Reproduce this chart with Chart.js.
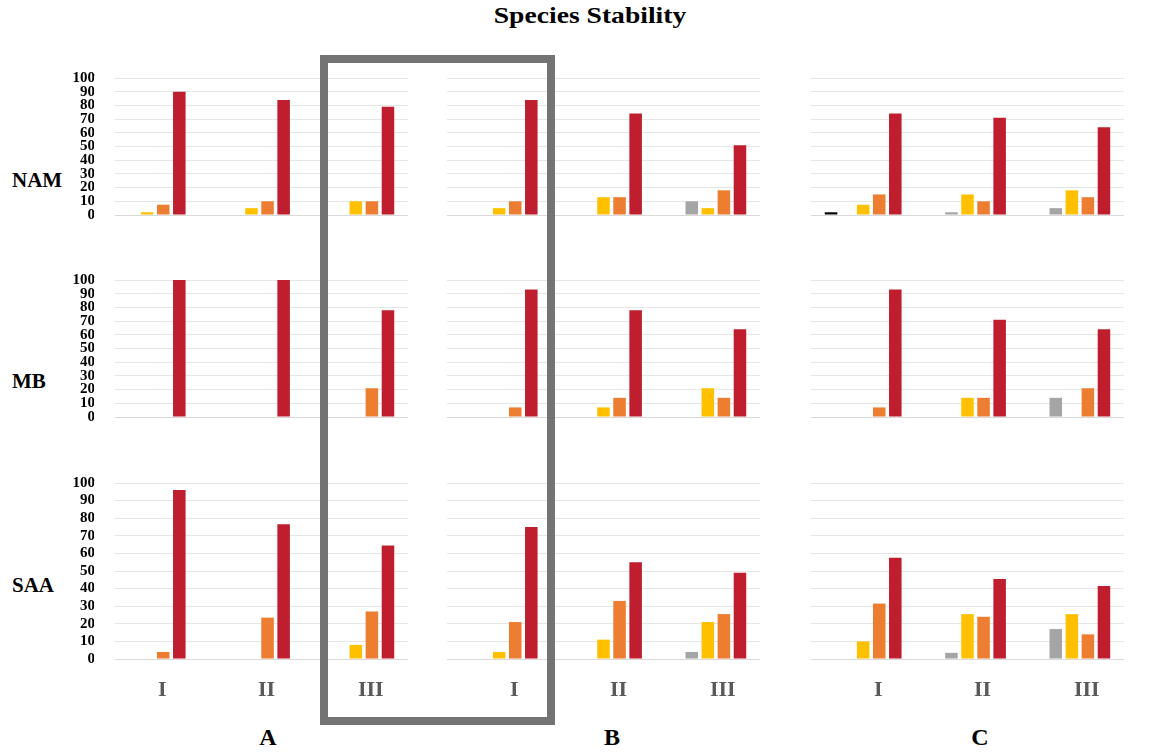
<!DOCTYPE html>
<html>
<head>
<meta charset="utf-8">
<title>Species Stability</title>
<script src="https://cdn.jsdelivr.net/npm/chart.js"></script>
<style>
  body { margin: 0; background: #fff; }
  #wrap {
    position: relative;
    width: 1157px;
    height: 755px;
    overflow: hidden;
    font-family: "Liberation Serif", "Times New Roman", serif;
    font-weight: bold;
  }
  #wrap canvas { position: absolute; }
  .lbl { position: absolute; white-space: nowrap; line-height: 1; color: #000; }
  .title { font-size: 23px; left: 590px; top: 4px; transform: translateX(-50%) scaleX(1.2); }
  .region { font-size: 21px; left: 12px; }
  .panel { font-size: 24px; top: 725px; transform: translateX(-50%); }
  #box {
    position: absolute;
    left: 320px;
    top: 55px;
    width: 235px;
    height: 670px;
    box-sizing: border-box;
    border: 8px solid #737373;
    z-index: 5;
  }
</style>
</head>
<body>
<div id="wrap">
  <div class="lbl title">Species Stability</div>
  <div class="lbl region" style="top:170px">NAM</div>
  <div class="lbl region" style="top:371px">MB</div>
  <div class="lbl region" style="top:575px">SAA</div>
  <div class="lbl panel" style="left:268px">A</div>
  <div class="lbl panel" style="left:612px">B</div>
  <div class="lbl panel" style="left:980px">C</div>
  <div id="box"></div>
</div>

<script>
const groupLabels = ['I', 'II', 'III'];
const panelNames = ['A', 'B', 'C'];
const regionNames = ['NAM', 'MB', 'SAA'];
const seriesNames = ['black', 'gray', 'yellow', 'orange', 'red'];
const seriesColors = ['#000000', '#a5a5a5', '#ffc000', '#ed7d31', '#be1e2d'];

// every array: A-I, A-II, A-III, B-I, B-II, B-III, C-I, C-II, C-III
const namBlack  = [0, 0, 0, 0, 0, 0, 2, 0, 0];
const namGray   = [0, 0, 0, 0, 0, 10, 0, 2, 5];
const namYellow = [2, 5, 10, 5, 13, 5, 7.5, 15, 18];
const namOrange = [7.5, 10, 10, 10, 13, 18, 15, 10, 13];
const namRed    = [90, 84, 79, 84, 74, 51, 74, 71, 64];

const mbBlack  = [0, 0, 0, 0, 0, 0, 0, 0, 0];
const mbGray   = [0, 0, 0, 0, 0, 0, 0, 0, 14];
const mbYellow = [0, 0, 0, 0, 7, 21, 0, 14, 0];
const mbOrange = [0, 0, 21, 7, 14, 14, 7, 14, 21];
const mbRed    = [100, 100, 78, 93, 78, 64, 93, 71, 64];

const saaBlack  = [0, 0, 0, 0, 0, 0, 0, 0, 0];
const saaGray   = [0, 0, 0, 0, 0, 4, 0, 3.5, 17];
const saaYellow = [0, 0, 8, 4, 11, 21, 10, 25.5, 25.5];
const saaOrange = [4, 23.5, 27, 21, 33, 25.5, 31.5, 24, 14];
const saaRed    = [96, 76.5, 64.5, 75, 55, 49, 57.5, 45.5, 41.5];

const regionSeries = [
  [namBlack, namGray, namYellow, namOrange, namRed],
  [mbBlack, mbGray, mbYellow, mbOrange, mbRed],
  [saaBlack, saaGray, saaYellow, saaOrange, saaRed]
];

// where each plot area sits on the page
const panelLeft = [95, 447, 811];
const panelWidth = 313;
const rowTop = [78, 280, 483];
const rowHeight = [177, 177, 176];
const PAD_TOP = 10;
const PAD_BOTTOM = 12;
const Y_AXIS_W = 60;
const X_AXIS_H = 40;

const serif = 'Liberation Serif';

// the gridlines of panel A start a bit right of the plot edge
const maskGrid = {
  id: 'maskGrid',
  beforeDatasetsDraw(chart, args, opts) {
    if (!opts.width) return;
    const a = chart.chartArea;
    const ctx = chart.ctx;
    ctx.save();
    ctx.fillStyle = '#ffffff';
    ctx.fillRect(a.left - 1, a.top - 2, opts.width + 1, a.bottom - a.top + 4);
    ctx.restore();
  }
};

const wrap = document.getElementById('wrap');

regionNames.forEach((region, r) => {
  panelNames.forEach((panel, p) => {
    const showY = p === 0;
    const showX = r === regionNames.length - 1;
    const yW = showY ? Y_AXIS_W : 0;
    const bottom = showX ? X_AXIS_H : PAD_BOTTOM;

    const canvas = document.createElement('canvas');
    canvas.width = panelWidth + yW;
    canvas.height = rowHeight[r] + PAD_TOP + bottom;
    canvas.style.left = (panelLeft[p] - yW) + 'px';
    canvas.style.top = (rowTop[r] - PAD_TOP) + 'px';
    wrap.appendChild(canvas);

    new Chart(canvas.getContext('2d'), {
      type: 'bar',
      data: {
        labels: groupLabels,
        datasets: regionSeries[r].map((values, s) => ({
          label: region + ' ' + panel + ' ' + seriesNames[s],
          data: values.slice(p * 3, p * 3 + 3),
          backgroundColor: seriesColors[s],
          borderWidth: 0,
          categoryPercentage: 0.77,
          barPercentage: 0.78
        }))
      },
      options: {
        responsive: false,
        animation: false,
        layout: { padding: { top: PAD_TOP, bottom: showX ? 0 : PAD_BOTTOM, left: 0, right: 0 } },
        plugins: {
          legend: { display: false },
          tooltip: { enabled: false },
          maskGrid: { width: showY ? 20 : 0 }
        },
        scales: {
          x: {
            display: showX,
            grid: { display: false },
            border: { display: false },
            ticks: {
              padding: 10,
              labelOffset: 15,
              color: '#595959',
              font: { family: serif, size: 22, weight: 'bold' }
            },
            afterFit: (scale) => { scale.height = X_AXIS_H; }
          },
          y: {
            min: 0,
            max: 100,
            border: { display: false },
            grid: {
              drawTicks: false,
              color: (ctx) => ctx.tick && ctx.tick.value === 0 ? '#d9d9d9' : '#e6e6e6'
            },
            ticks: {
              display: showY,
              stepSize: 10,
              autoSkip: false,
              padding: 0,
              color: '#000000',
              font: { family: serif, size: 15, weight: 'bold', lineHeight: 1 }
            },
            afterFit: (scale) => { scale.width = yW; }
          }
        }
      },
      plugins: [maskGrid]
    });
  });
});
</script>
</body>
</html>
